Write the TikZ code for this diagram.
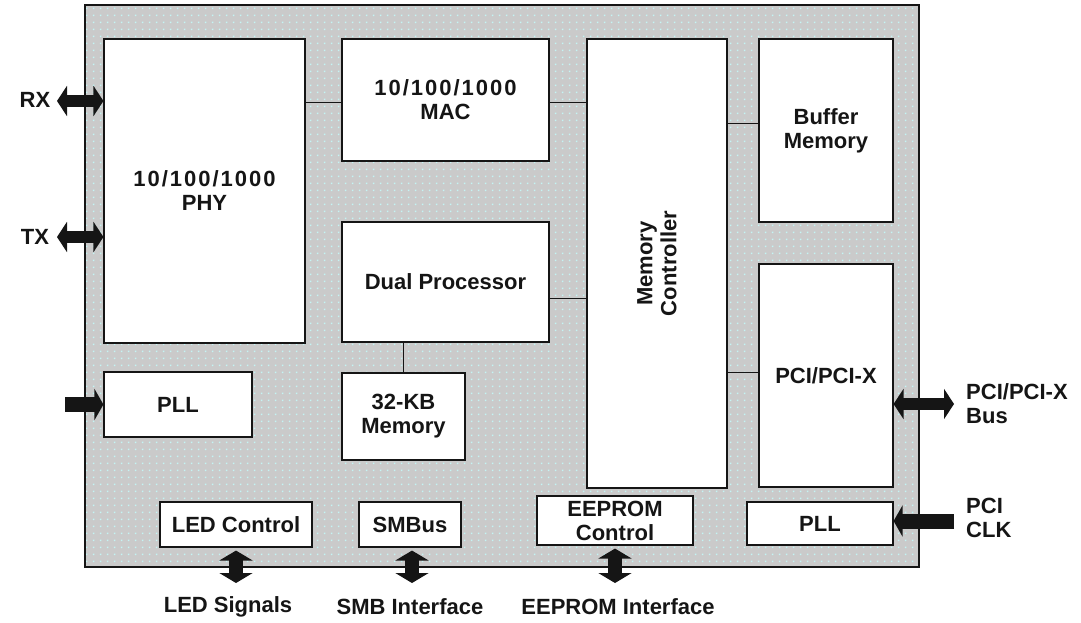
\documentclass[tikz,border=0pt]{standalone}
\usepackage{fontspec}
\setmainfont{Liberation Sans}
\usetikzlibrary{arrows.meta,patterns}
\definecolor{bggray}{HTML}{CACACA}
\definecolor{dotc}{HTML}{C4F4F4}
\definecolor{ink}{HTML}{151515}
\pgfdeclarepatternformonly{bgdots}{\pgfpointorigin}{\pgfqpoint{6.5pt}{6.5pt}}{\pgfqpoint{6.5pt}{6.5pt}}{%
  \pgfpathrectangle{\pgfqpoint{2pt}{2pt}}{\pgfqpoint{1.7pt}{1.7pt}}\pgfusepath{fill}}
\newcommand{\digs}[1]{{\addfontfeature{LetterSpace=9}#1}}
\begin{document}
\begin{tikzpicture}[x=1pt,y=-1pt,
  txt/.style={font=\bfseries\fontsize{22}{24}\selectfont, text=ink, align=center, inner sep=0pt},
  blk/.style={txt, draw=ink, line width=1.1pt, fill=white, rectangle},
  wire/.style={draw=ink, line width=1pt},
  fattwo/.style={draw=ink, line width=12pt, {Triangle[width=30pt,length=10pt]}-{Triangle[width=30pt,length=10pt]}},
  fatone/.style={draw=ink, line width=15pt, -{Triangle[width=31pt,length=9pt]}},
  fatv/.style={draw=ink, line width=14pt, {Triangle[width=33pt,length=10pt]}-{Triangle[width=33pt,length=10pt]}}
]
\useasboundingbox (0,0) rectangle (1081,623);
% outer chip area
\fill[bggray] (85,5) rectangle (919,567);
\fill[pattern=bgdots, pattern color=dotc] (85,5) rectangle (919,567);
\draw[ink, line width=1.4pt] (85,5) rectangle (919,567);

% blocks
\node[blk, minimum width=201pt, minimum height=304pt] (phy) at (204.5,191) {\digs{10/100/1000}\\PHY};
\node[blk, minimum width=207pt, minimum height=122pt] (mac) at (445.5,100) {\digs{10/100/1000}\\MAC};
\node[blk, minimum width=140pt, minimum height=449pt] (mem) at (657,263.5) {};
\node[txt, rotate=90] (memt) at (mem.center) {Memory\\Controller};
\node[blk, minimum width=134pt, minimum height=183pt] (buf) at (826,130.5) {Buffer\\Memory};
\node[blk, minimum width=207pt, minimum height=120pt] (dp) at (445.5,282) {Dual Processor};
\node[blk, minimum width=123pt, minimum height=87pt] (kb) at (403.5,416.5) {32-KB\\Memory};
\node[blk, minimum width=148pt, minimum height=65pt] (pllL) at (178,404.5) {PLL};
\node[blk, minimum width=134pt, minimum height=223pt] (pci) at (826,375.5) {PCI/PCI-X};
\node[blk, minimum width=152pt, minimum height=45pt] (led) at (236,524.5) {LED Control};
\node[blk, minimum width=102pt, minimum height=45pt] (smb) at (410,524.5) {SMBus};
\node[blk, minimum width=156pt, minimum height=49pt] (eep) at (615,520.5) {EEPROM\\Control};
\node[blk, minimum width=146pt, minimum height=43pt] (pllR) at (820,523.5) {PLL};

% internal wires
\draw[wire] (phy.east |- 0,103) -- (mac.west |- 0,103);
\draw[wire] (mac.east |- 0,103) -- (mem.west |- 0,103);
\draw[wire] (mem.east |- 0,124) -- (buf.west |- 0,124);
\draw[wire] (dp.east |- 0,298) -- (mem.west |- 0,298);
\draw[wire] (mem.east |- 0,372) -- (pci.west |- 0,372);
\draw[wire] (kb.north) -- (kb.north |- dp.south);

% external labels
\node[txt] (rx) at (35,100) {RX};
\node[txt] (tx) at (35,237) {TX};
\node[txt, anchor=west, align=left] (pcibus) at (966,404) {PCI/PCI-X\\Bus};
\node[txt, anchor=west, align=left] (pciclk) at (966,518) {PCI\\CLK};
\node[txt] (ledsig) at (228,607) {LED Signals};
\node[txt] (smbif) at (410,607) {SMB Interface};
\node[txt] (eepif) at (618,607) {EEPROM Interface};

% external arrow free ends
\coordinate (rxL) at (57,101);
\coordinate (txL) at (57,237);
\coordinate (pllIn) at (65,404.5);
\coordinate (busR) at (954,404);
\coordinate (clkR) at (954,521);
\coordinate (ledB) at (236,583);
\coordinate (smbB) at (412,583);
\coordinate (eepB) at (615,583);

\draw[fattwo] (rxL) -- (phy.west |- rxL);
\draw[fattwo] (txL) -- (phy.west |- txL);
\draw[fatone] (pllIn) -- (pllL.west |- pllIn);
\draw[fattwo] (pci.east |- busR) -- (busR);
\draw[fatone] (clkR) -- (pllR.east |- clkR);
\draw[fatv, shorten <=3pt] (led.south) -- (ledB);
\draw[fatv, shorten <=3pt] (smb.south -| smbB) -- (smbB);
\draw[fatv, shorten <=3pt] (eep.south) -- (eepB);
\end{tikzpicture}
\end{document}
